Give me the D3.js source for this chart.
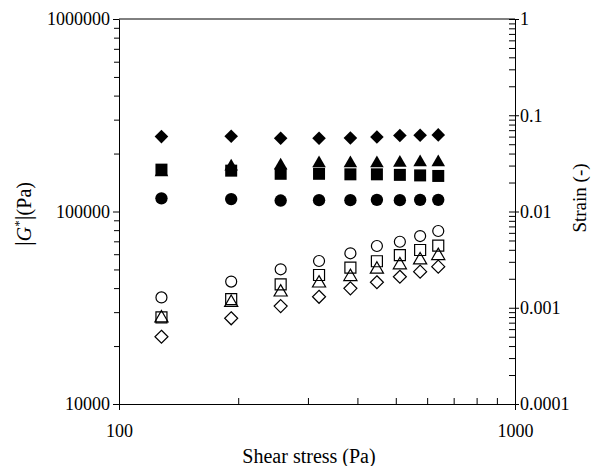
<!DOCTYPE html>
<html>
<head>
<meta charset="utf-8">
<script src="https://cdn.jsdelivr.net/npm/d3@7"></script>
<style>
  body { margin: 0; background: #fff; }
</style>
</head>
<body>
<div></div>
<script>
// shear stress (Pa)
const stress = [128, 192, 256, 320, 384, 448, 512, 576, 640];
// |G*| (Pa), filled symbols, left axis
const gDiamond = [245000, 246000, 240000, 240000, 241000, 244000, 248000, 249000, 250000];
const gSquare = [165000, 163000, 157000, 157000, 156000, 156000, 155000, 154000, 153000];
const gTriangle = [160000, 171000, 173000, 178000, 178000, 178000, 179000, 180000, 180000];
const gCircle = [117000, 116000, 114000, 114500, 114500, 115000, 114500, 115000, 115000];
// strain (-), open symbols, right axis
const sCircle = [0.00128, 0.00187, 0.00251, 0.00306, 0.00368, 0.00438, 0.00485, 0.00556, 0.00627];
const sSquare = [0.000796, 0.00123, 0.00175, 0.00219, 0.00261, 0.00304, 0.00353, 0.00398, 0.00441];
const sTriangle = [0.00078, 0.00113, 0.00145, 0.0018, 0.0021, 0.00251, 0.00278, 0.00313, 0.00347];
const sDiamond = [0.0005, 0.000777, 0.00104, 0.0013, 0.00159, 0.00184, 0.0021, 0.00237, 0.00267];

const xTicks = [100, 1000];
const yLeftTicks = [10000, 100000, 1000000];
const yRightTicks = [0.0001, 0.001, 0.01, 0.1, 1];

const font = "Liberation Serif";
const w = 595;
const h = 466;
const m = { left: 119, top: 19, right: 80, bottom: 62 };

const svg = d3.select("div").append("svg").attr("width", w).attr("height", h)
  .attr("font-family", font);

const x = d3.scaleLog().domain([100, 1000]).range([m.left, w - m.right]);
const yL = d3.scaleLog().domain([10000, 1000000]).range([h - m.bottom, m.top]);
const yR = d3.scaleLog().domain([0.0001, 1]).range([h - m.bottom, m.top]);

// minor ticks for each decade
function minors(lo, hi) {
  const out = [];
  for (let d = lo; d < hi; d *= 10) {
    for (let k = 2; k <= 9; k++) out.push(d * k);
  }
  return out;
}

const fmt = (d) => String(+d.toPrecision(6));

function styleLabels(g) {
  g.attr("font-family", font);
  g.selectAll("text").attr("font-size", 18).attr("font-family", font).attr("fill", "#000");
}

// bottom axis: majors cross, minors point inward
const xAxis = svg.append("g").attr("transform", "translate(0," + (h - m.bottom) + ")");
xAxis.append("g").call(d3.axisBottom(x).tickValues(minors(100, 1000)).tickSize(-6).tickFormat(""))
  .call((g) => g.select(".domain").remove());
xAxis.append("g").call(d3.axisBottom(x).tickValues(xTicks).tickSizeInner(6).tickSizeOuter(0).tickPadding(14).tickFormat(fmt))
  .call(styleLabels)
  .call((g) => g.selectAll(".tick line").attr("y1", -5));

// left axis: ticks outward
const lAxis = svg.append("g").attr("transform", "translate(" + m.left + ",0)");
lAxis.append("g").call(d3.axisLeft(yL).tickValues(minors(10000, 1000000)).tickSize(5).tickFormat(""))
  .call((g) => g.select(".domain").remove());
lAxis.append("g").call(d3.axisLeft(yL).tickValues(yLeftTicks).tickSizeInner(6).tickSizeOuter(0).tickPadding(3).tickFormat(fmt))
  .call(styleLabels);

// right axis: minors inward, majors cross
const rAxis = svg.append("g").attr("transform", "translate(" + (w - m.right) + ",0)");
rAxis.append("g").call(d3.axisRight(yR).tickValues(minors(0.0001, 1)).tickSize(-6).tickFormat(""))
  .call((g) => g.select(".domain").remove());
rAxis.append("g").call(d3.axisRight(yR).tickValues(yRightTicks).tickSizeInner(4).tickSizeOuter(0).tickPadding(1).tickFormat(fmt))
  .call(styleLabels)
  .call((g) => g.selectAll(".tick line").attr("x1", -6));

// top frame line
svg.append("line")
  .attr("x1", m.left).attr("x2", w - m.right)
  .attr("y1", m.top).attr("y2", m.top)
  .attr("stroke", "#000");

svg.selectAll(".domain").attr("stroke", "#000");
svg.selectAll(".tick line").attr("stroke", "#000");

// axis titles
svg.append("text")
  .attr("x", (m.left + w - m.right) / 2 - 8)
  .attr("y", 463)
  .attr("text-anchor", "middle")
  .attr("font-family", font)
  .attr("font-size", 20)
  .text("Shear stress (Pa)");

const yl = svg.append("text")
  .attr("transform", "translate(31,214) rotate(-90)")
  .attr("text-anchor", "middle")
  .attr("font-family", font)
  .attr("font-size", 20);
yl.append("tspan").attr("font-size", 24).text("|");
yl.append("tspan").attr("font-style", "italic").text("G");
yl.append("tspan").attr("font-size", 13).attr("dy", -8).text("*");
yl.append("tspan").attr("font-size", 24).attr("dy", 8).text("|");
yl.append("tspan").text("(Pa)");

svg.append("text")
  .attr("transform", "translate(586,198) rotate(-90)")
  .attr("text-anchor", "middle")
  .attr("font-family", font)
  .attr("font-size", 19)
  .text("Strain (-)");

// symbols
const diamond = (s) => "M0," + -s + "L" + s + ",0L0," + s + "L" + -s + ",0Z";
const symbolPath = {
  circle: d3.symbol(d3.symbolCircle, 120)(),
  square: d3.symbol(d3.symbolSquare, 144)(),
  triangle: d3.symbol(d3.symbolTriangle, 80)(),
  diamond: diamond(6.8),
};
const openPath = {
  circle: d3.symbol(d3.symbolCircle, 95)(),
  square: d3.symbol(d3.symbolSquare, 121)(),
  triangle: d3.symbol(d3.symbolTriangle, 75)(),
  diamond: diamond(6.5),
};

const filled = [
  { shape: "diamond", values: gDiamond },
  { shape: "triangle", values: gTriangle },
  { shape: "square", values: gSquare },
  { shape: "circle", values: gCircle },
];
const open = [
  { shape: "circle", values: sCircle },
  { shape: "square", values: sSquare },
  { shape: "triangle", values: sTriangle },
  { shape: "diamond", values: sDiamond },
];

filled.forEach((s) => {
  svg.append("g")
    .selectAll("path")
    .data(s.values)
    .enter()
    .append("path")
    .attr("d", symbolPath[s.shape])
    .attr("transform", (d, i) => "translate(" + x(stress[i]) + "," + yL(d) + ")")
    .attr("fill", "#000");
});

open.forEach((s) => {
  svg.append("g")
    .selectAll("path")
    .data(s.values)
    .enter()
    .append("path")
    .attr("d", openPath[s.shape])
    .attr("transform", (d, i) => "translate(" + x(stress[i]) + "," + yR(d) + ")")
    .attr("fill", "none")
    .attr("stroke", "#000")
    .attr("stroke-width", 1.2);
});
</script>
</body>
</html>
